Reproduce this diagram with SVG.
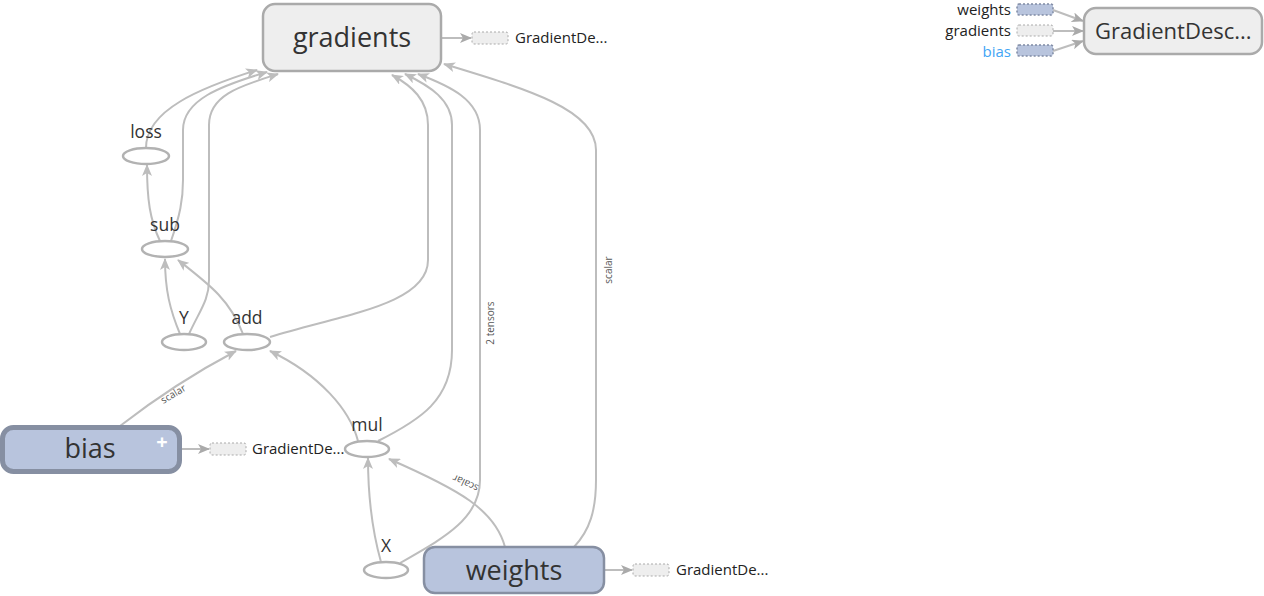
<svg xmlns="http://www.w3.org/2000/svg" width="1264" height="596" viewBox="0 0 1264 596">
<style>
text{font-family:"Open Sans","Noto Sans","Liberation Sans",sans-serif;fill:#333}
.edge{fill:none;stroke:#bdbdbd;stroke-width:2}
.op{fill:#fff;stroke:#b2b2b2;stroke-width:2.5}
.lbl{font-size:17.5px;text-anchor:middle}
.meta{fill:#eee;stroke:#aaa;stroke-width:2.5}
.var{fill:#b8c4dd;stroke:#868fa2}
.stub{fill:#eee;stroke:#aaa;stroke-width:1;stroke-dasharray:2,2}
.vstub{fill:#b8c4dd;stroke:#7f8aa4;stroke-width:1.5;stroke-dasharray:2,2}
.elbl{font-size:10px;fill:#555;text-anchor:middle}
.small{font-size:15px;fill:#222}
</style>
<defs>
<marker id="ah" markerWidth="12" markerHeight="10" refX="11" refY="5" orient="auto" markerUnits="userSpaceOnUse">
<path d="M0,0 L12,5 L0,10 L3,5 Z" fill="#bdbdbd"/>
</marker>
<marker id="ah2" markerWidth="12" markerHeight="10" refX="11" refY="5" orient="auto" markerUnits="userSpaceOnUse">
<path d="M0,0 L12,5 L0,10 L3,5 Z" fill="#aaa"/>
</marker>
</defs>
<g id="edges">
<path class="edge" marker-end="url(#ah)" d="M146,148 C146,110 200,88 257,70"/>
<path class="edge" marker-end="url(#ah)" d="M171,241 C180,215 183,200 183,180 L183,130 C183,100 220,86 267,72"/>
<path class="edge" marker-end="url(#ah)" d="M189,334 C200,310 209,300 209,280 L209,125 C209,95 240,86 278,74"/>
<path class="edge" marker-end="url(#ah)" d="M160,241 C150,220 147,200 147,165"/>
<path class="edge" marker-end="url(#ah)" d="M180,334 C170,310 165,290 165,259"/>
<path class="edge" marker-end="url(#ah)" d="M243,334 C230,300 210,285 178,260"/>
<path class="edge" marker-end="url(#ah)" d="M270,337 C340,315 428,305 428,260 L428,125 C428,100 412,86 392,75"/>
<path class="edge" marker-end="url(#ah)" d="M378,441 C420,420 452,400 452,350 L452,125 C452,100 430,86 405,74"/>
<path class="edge" marker-end="url(#ah)" d="M400,563 C440,540 480,520 480,480 L480,130 C480,100 450,86 418,74"/>
<path class="edge" marker-end="url(#ah)" d="M574,547 C590,530 596,510 596,480 L596,150 C596,110 530,90 444,64"/>
<path class="edge" marker-end="url(#ah)" d="M120,426 C160,395 200,370 236,351"/>
<path class="edge" marker-end="url(#ah)" d="M358,441 C350,410 320,375 270,351"/>
<path class="edge" marker-end="url(#ah)" d="M381,562 C372,530 368,500 368,458"/>
<path class="edge" marker-end="url(#ah)" d="M505,547 C495,510 460,490 389,459"/>
<path class="edge" marker-end="url(#ah2)" d="M441,38 L471,38"/>
<path class="edge" marker-end="url(#ah2)" d="M180,449 L209,449"/>
<path class="edge" marker-end="url(#ah2)" d="M604,570 L632,570"/>
<path class="edge" marker-end="url(#ah2)" d="M1053,10 L1083,21"/>
<path class="edge" marker-end="url(#ah2)" d="M1053,31 L1083,31"/>
<path class="edge" marker-end="url(#ah2)" d="M1053,51 L1083,41"/>
<text class="elbl" transform="translate(175,397) rotate(-31)">scalar</text>
<text class="elbl" transform="translate(494,323) rotate(-90)">2 tensors</text>
<text class="elbl" transform="translate(612,270) rotate(-90)">scalar</text>
<text class="elbl" transform="translate(467,480) rotate(205)">scalar</text>
</g>
<g id="gradients">
<rect class="meta" x="263" y="4" width="178" height="67" rx="12"/>
<text x="352" y="47" font-size="27" text-anchor="middle">gradients</text>
<rect class="stub" x="472" y="32" width="36" height="12" rx="2"/>
<text class="small" x="515" y="43">GradientDe...</text>
</g>
<g id="loss">
<ellipse class="op" cx="146" cy="156" rx="23" ry="8"/>
<text class="lbl" x="146" y="138">loss</text>
</g>
<g id="sub">
<ellipse class="op" cx="165" cy="249" rx="23" ry="8"/>
<text class="lbl" x="165" y="231">sub</text>
</g>
<g id="Y">
<ellipse class="op" cx="184" cy="342" rx="22" ry="8"/>
<text class="lbl" x="184" y="324">Y</text>
</g>
<g id="add">
<ellipse class="op" cx="247" cy="342" rx="23" ry="8"/>
<text class="lbl" x="247" y="324">add</text>
</g>
<g id="mul">
<ellipse class="op" cx="367" cy="449" rx="22" ry="8"/>
<text class="lbl" x="367" y="431">mul</text>
</g>
<g id="X">
<ellipse class="op" cx="386" cy="570" rx="22" ry="8"/>
<text class="lbl" x="386" y="552">X</text>
</g>
<g id="bias">
<rect class="var" x="2.5" y="427.5" width="177" height="44" rx="11" stroke-width="5"/>
<text x="90" y="458" font-size="27" text-anchor="middle">bias</text>
<text x="162" y="449" font-size="20" text-anchor="middle" style="fill:#fff;font-weight:bold">+</text>
<rect class="stub" x="210" y="443" width="36" height="12" rx="2"/>
<text class="small" x="252" y="454">GradientDe...</text>
</g>
<g id="weights">
<rect class="var" x="424" y="547" width="180" height="46" rx="11" stroke-width="2.5"/>
<text x="514" y="580" font-size="27" text-anchor="middle">weights</text>
<rect class="stub" x="633" y="564" width="36" height="12" rx="2"/>
<text class="small" x="676" y="575">GradientDe...</text>
</g>
<g id="GradientDescent">
<rect class="meta" x="1084" y="8" width="178" height="46" rx="12"/>
<text x="1095" y="39" font-size="22">GradientDesc...</text>
<rect class="vstub" x="1017" y="4" width="36" height="11" rx="2"/>
<rect class="stub" x="1017" y="25" width="36" height="11" rx="2"/>
<rect class="vstub" x="1017" y="45" width="36" height="11" rx="2"/>
<text class="small" x="1011" y="15" text-anchor="end">weights</text>
<text class="small" x="1011" y="36" text-anchor="end">gradients</text>
<text class="small" x="1011" y="57" text-anchor="end" style="fill:#42a5f5">bias</text>
</g>
</svg>
